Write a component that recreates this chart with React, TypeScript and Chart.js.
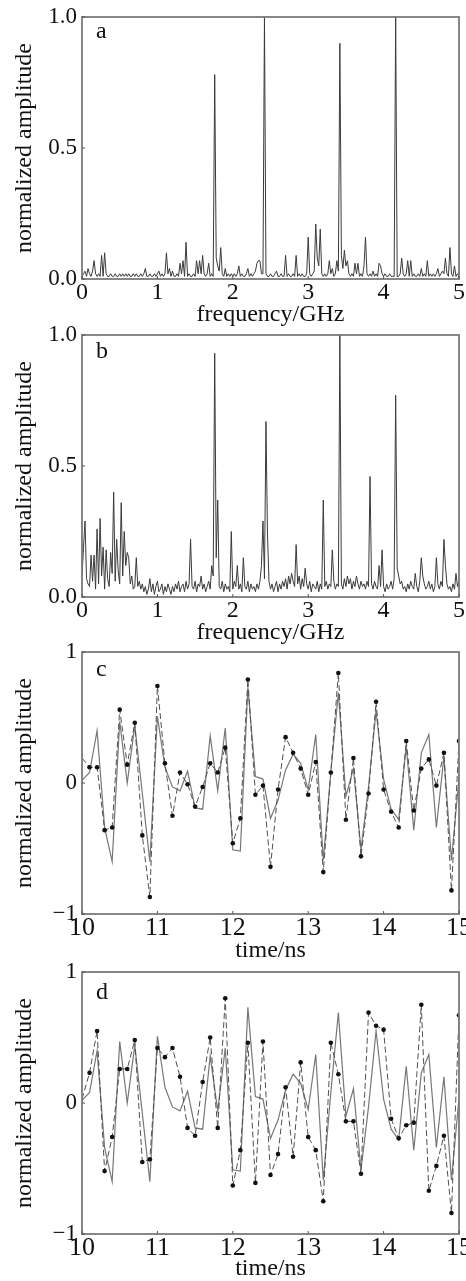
import React, { useEffect, useRef } from 'react';
import { Chart, registerables } from 'chart.js';

Chart.register(...registerables);

// ---------------- DATA ----------------
// Spectra sampled every 0.02 GHz from 0 to 5 GHz; values are normalized amplitude x 100.
const FREQ_STEP_GHZ = 0.02;
const FREQ_TICKS = [0, 1, 2, 3, 4, 5];

const SPEC_A = [
  1, 2, 3, 1, 4, 2, 1, 3, 7, 2,
  1, 2, 1, 9, 1, 10, 2, 1, 1, 2,
  1, 1, 2, 1, 1, 2, 1, 2, 1, 2,
  1, 2, 1, 1, 2, 1, 2, 1, 1, 2,
  1, 2, 4, 1, 1, 2, 1, 1, 2, 1,
  2, 3, 1, 2, 1, 2, 10, 2, 4, 1,
  3, 1, 1, 2, 1, 6, 2, 7, 1, 14,
  1, 2, 1, 1, 2, 1, 7, 2, 7, 2,
  9, 2, 1, 2, 6, 1, 2, 1, 78, 8,
  5, 3, 12, 2, 1, 4, 1, 2, 1, 2,
  1, 2, 1, 2, 5, 1, 2, 1, 1, 2,
  4, 1, 2, 1, 2, 3, 6, 7, 7, 2,
  2, 100, 2, 1, 1, 2, 1, 1, 2, 3,
  1, 1, 2, 1, 1, 9, 1, 2, 1, 1,
  2, 1, 9, 1, 2, 1, 2, 1, 1, 2,
  16, 2, 1, 2, 3, 21, 8, 5, 19, 2,
  1, 2, 1, 2, 7, 2, 4, 1, 2, 7,
  3, 90, 9, 4, 11, 5, 7, 2, 1, 2,
  1, 6, 2, 6, 1, 2, 1, 5, 16, 2,
  1, 2, 1, 3, 1, 2, 1, 6, 5, 2,
  1, 2, 1, 1, 2, 1, 1, 1, 100, 1,
  1, 2, 8, 2, 1, 2, 7, 1, 7, 1,
  2, 1, 1, 2, 1, 4, 1, 2, 1, 7,
  1, 2, 1, 2, 1, 2, 4, 1, 2, 3,
  2, 8, 2, 1, 12, 2, 1, 5, 1, 2,
  1,
];

const SPEC_B = [
  8, 19, 29, 7, 5, 4, 16, 6, 16, 3,
  26, 5, 30, 8, 19, 3, 18, 7, 4, 17,
  9, 40, 6, 22, 10, 5, 36, 8, 25, 12,
  17, 15, 5, 8, 3, 4, 15, 4, 6, 3,
  5, 2, 4, 1, 3, 7, 2, 5, 1, 4,
  6, 2, 3, 5, 1, 4, 2, 5, 3, 1,
  4, 2, 5, 3, 6, 2, 4, 5, 2, 6,
  3, 5, 22, 4, 3, 6, 2, 5, 4, 8,
  3, 5, 2, 4, 6, 3, 12, 8, 93, 15,
  37, 4, 3, 6, 2, 5, 3, 4, 2, 25,
  3, 6, 4, 12, 3, 5, 2, 15, 4, 3,
  6, 2, 5, 3, 4, 2, 5, 3, 6, 12,
  29, 7, 67, 24, 6, 3, 5, 2, 4, 6,
  2, 5, 3, 6, 4, 7, 3, 8, 5, 9,
  6, 4, 20, 5, 8, 3, 7, 4, 11, 5,
  3, 6, 2, 5, 4, 3, 6, 2, 5, 3,
  37, 4, 6, 3, 5, 4, 18, 6, 3, 5,
  4, 100, 5, 3, 7, 4, 8, 5, 7, 3,
  6, 4, 8, 5, 3, 6, 4, 5, 3, 6,
  4, 46, 5, 3, 6, 4, 3, 12, 4, 18,
  4, 2, 5, 3, 4, 6, 3, 7, 77, 11,
  8, 5, 6, 3, 4, 2, 5, 3, 6, 4,
  3, 9, 4, 2, 6, 15, 8, 5, 3, 4,
  6, 3, 5, 2, 4, 15, 5, 3, 6, 4,
  22, 12, 5, 3, 4, 2, 5, 3, 9, 4,
  6,
];

const TIME_NS = [
  10.0, 10.1, 10.2, 10.3, 10.4, 10.5, 10.6, 10.7, 10.8, 10.9,
  11.0, 11.1, 11.2, 11.3, 11.4, 11.5, 11.6, 11.7, 11.8, 11.9,
  12.0, 12.1, 12.2, 12.3, 12.4, 12.5, 12.6, 12.7, 12.8, 12.9,
  13.0, 13.1, 13.2, 13.3, 13.4, 13.5, 13.6, 13.7, 13.8, 13.9,
  14.0, 14.1, 14.2, 14.3, 14.4, 14.5, 14.6, 14.7, 14.8, 14.9,
  15.0,
];
const TIME_TICKS = [10, 11, 12, 13, 14, 15];

// solid line (same original waveform in panels c and d)
const ORIGINAL = [
  0.02, 0.08, 0.40, -0.34, -0.60, 0.47, 0.00, 0.44, -0.08, -0.60,
  0.51, 0.12, -0.03, -0.06, 0.09, -0.19, -0.20, 0.36, -0.06, 0.42,
  -0.51, -0.52, 0.73, 0.05, 0.03, -0.27, -0.13, 0.10, 0.22, 0.15,
  -0.05, 0.37, -0.59, 0.08, 0.69, -0.10, 0.11, -0.51, -0.03, 0.55,
  0.03, -0.20, -0.28, 0.28, -0.36, 0.23, 0.37, -0.34, 0.20, -0.59,
  0.04,
];

// dashed line with dots, panel c
const PRED_C = [
  0.19, 0.12, 0.12, -0.36, -0.34, 0.56, 0.14, 0.46, -0.40, -0.87,
  0.74, 0.15, -0.25, 0.08, -0.01, -0.18, -0.03, 0.15, 0.08, 0.27,
  -0.46, -0.27, 0.79, -0.09, -0.02, -0.64, -0.05, 0.35, 0.23, 0.11,
  -0.09, 0.16, -0.68, 0.08, 0.84, -0.28, 0.19, -0.56, -0.08, 0.62,
  -0.05, -0.22, -0.34, 0.32, -0.21, 0.11, 0.18, -0.02, 0.23, -0.82,
  0.32,
];

// dashed line with dots, panel d
const PRED_D = [
  0.03, 0.23, 0.55, -0.52, -0.26, 0.26, 0.26, 0.48, -0.45, -0.43,
  0.42, 0.35, 0.42, 0.20, -0.19, -0.25, 0.16, 0.50, -0.19, 0.80,
  -0.63, -0.36, 0.46, -0.61, 0.47, -0.55, -0.39, 0.12, -0.41, 0.31,
  -0.26, -0.36, -0.75, 0.46, 0.22, -0.14, -0.14, -0.54, 0.69, 0.59,
  0.56, -0.12, -0.27, -0.17, -0.15, 0.75, -0.67, -0.48, -0.25, -0.84,
  0.67,
];

const FREQ_Y_TICKS = [0, 0.5, 1];
const TIME_Y_TICKS = [-1, 0, 1];

// ---------------- STYLE / LAYOUT ----------------
const SERIF = '"Liberation Serif", "Times New Roman", Times, serif';
const W = 466;

type Panel = {
  id: string;
  kind: 'freq' | 'time';
  letter: string;
  canvasTop: number;
  canvasH: number;
  areaTop: number;
  xAxisH: number;
  letterDy: number;
  xTitlePad: number;
  xTickSize: number;
  spec?: number[];
  pred?: number[];
};

const PANELS: Panel[] = [
  { id: 'a', kind: 'freq', letter: 'a', canvasTop: 0, canvasH: 330, areaTop: 17, xAxisH: 51, letterDy: 21, xTitlePad: 3, xTickSize: 24, spec: SPEC_A },
  { id: 'b', kind: 'freq', letter: 'b', canvasTop: 322, canvasH: 330, areaTop: 13, xAxisH: 55, letterDy: 23, xTitlePad: 7, xTickSize: 24, spec: SPEC_B },
  { id: 'c', kind: 'time', letter: 'c', canvasTop: 642, canvasH: 325, areaTop: 10, xAxisH: 53, letterDy: 24, xTitlePad: 4, xTickSize: 26, pred: PRED_C },
  { id: 'd', kind: 'time', letter: 'd', canvasTop: 962, canvasH: 319, areaTop: 10, xAxisH: 47, letterDy: 27, xTitlePad: 0, xTickSize: 26, pred: PRED_D },
];

const framePlugin = {
  id: 'frame',
  afterDatasetsDraw(chart: any, _args: any, opts: any) {
    const { ctx, chartArea: ca, scales } = chart;
    ctx.save();
    ctx.strokeStyle = '#7a7a7a';
    ctx.lineWidth = 1.8;
    ctx.strokeRect(ca.left, ca.top, ca.right - ca.left, ca.bottom - ca.top);
    ctx.lineWidth = 1;
    ctx.strokeStyle = '#555';
    ctx.beginPath();
    for (const t of scales.x.ticks) {
      const x = scales.x.getPixelForValue(t.value);
      ctx.moveTo(x, ca.bottom);
      ctx.lineTo(x, ca.bottom - 3);
    }
    for (const t of scales.y.ticks) {
      const y = scales.y.getPixelForValue(t.value);
      ctx.moveTo(ca.left, y);
      ctx.lineTo(ca.left + 3, y);
    }
    ctx.stroke();
    ctx.fillStyle = '#111';
    ctx.font = `24px ${SERIF}`;
    ctx.textBaseline = 'alphabetic';
    ctx.textAlign = 'left';
    ctx.fillText(opts.letter, ca.left + 14, ca.top + opts.letterDy);
    ctx.restore();
  },
};

function buildConfig(p: Panel): any {
  const isFreq = p.kind === 'freq';
  let datasets: any[];
  if (isFreq) {
    const spec = p.spec as number[];
    datasets = [
      {
        data: spec.map((v, i) => ({ x: +(i * FREQ_STEP_GHZ).toFixed(2), y: v / 100 })),
        borderColor: '#3a3a3a',
        borderWidth: 1,
        pointRadius: 0,
        tension: 0,
      },
    ];
  } else {
    const pred = p.pred as number[];
    datasets = [
      {
        data: TIME_NS.map((t, i) => ({ x: t, y: pred[i] })),
        borderColor: '#505050',
        borderWidth: 1,
        borderDash: [6, 3],
        pointRadius: (c: any) => (c.dataIndex === 0 ? 0 : 2.3),
        pointBackgroundColor: '#111',
        pointBorderColor: '#111',
        pointBorderWidth: 0,
        tension: 0,
      },
      {
        data: TIME_NS.map((t, i) => ({ x: t, y: ORIGINAL[i] })),
        borderColor: '#777777',
        borderWidth: 1.2,
        pointRadius: 0,
        tension: 0,
      },
    ];
  }
  const xTicks = isFreq ? FREQ_TICKS : TIME_TICKS;
  const yTicks = isFreq ? FREQ_Y_TICKS : TIME_Y_TICKS;
  return {
    type: 'line',
    data: { datasets },
    plugins: [framePlugin],
    options: {
      animation: false,
      responsive: false,
      events: [],
      layout: { padding: { left: 0, right: 7, top: p.areaTop, bottom: 0 } },
      plugins: {
        legend: { display: false },
        tooltip: { enabled: false },
        frame: { letter: p.letter, letterDy: p.letterDy },
      },
      scales: {
        x: {
          type: 'linear',
          min: xTicks[0],
          max: xTicks[xTicks.length - 1],
          afterBuildTicks: (s: any) => {
            s.ticks = xTicks.map((v) => ({ value: v }));
          },
          ticks: {
            autoSkip: false,
            maxRotation: 0,
            padding: -9,
            color: '#111',
            font: { family: SERIF, size: p.xTickSize },
            callback: (v: any) => String(v),
          },
          grid: { display: false },
          border: { display: false },
          title: {
            display: true,
            text: isFreq ? 'frequency/GHz' : 'time/ns',
            color: '#111',
            font: { family: SERIF, size: 24, lineHeight: 1 },
            padding: { top: 0, bottom: p.xTitlePad },
          },
          afterFit: (s: any) => {
            s.height = p.xAxisH;
            s.paddingLeft = 0;
            s.paddingRight = 0;
          },
        },
        y: {
          type: 'linear',
          min: yTicks[0],
          max: yTicks[yTicks.length - 1],
          afterBuildTicks: (s: any) => {
            s.ticks = yTicks.map((v) => ({ value: v }));
          },
          ticks: {
            padding: -3,
            color: '#111',
            font: { family: SERIF, size: 23 },
            callback: (v: any) =>
              isFreq ? Number(v).toFixed(1) : v < 0 ? '\u2212' + Math.abs(v) : String(v),
          },
          grid: { display: false },
          border: { display: false },
          title: {
            display: true,
            text: 'normalized amplitude',
            color: '#111',
            font: { family: SERIF, size: 24, lineHeight: 1 },
            padding: { top: 13, bottom: 0 },
          },
          afterFit: (s: any) => {
            s.width = 82;
            s.paddingTop = 0;
            s.paddingBottom = 0;
          },
        },
      },
    },
  };
}

function PanelChart({ p }: { p: Panel }) {
  const ref = useRef<HTMLCanvasElement | null>(null);
  useEffect(() => {
    if (!ref.current) return;
    const chart = new Chart(ref.current, buildConfig(p));
    return () => chart.destroy();
  }, [p]);
  return (
    <canvas
      ref={ref}
      width={W}
      height={p.canvasH}
      style={{ position: 'absolute', left: 0, top: p.canvasTop, width: W, height: p.canvasH }}
    />
  );
}

export default function App() {
  return (
    <div style={{ position: 'absolute', left: 0, top: 0, width: W, height: 1281, background: '#fff', overflow: 'hidden' }}>
      {PANELS.map((p) => (
        <PanelChart key={p.id} p={p} />
      ))}
    </div>
  );
}
